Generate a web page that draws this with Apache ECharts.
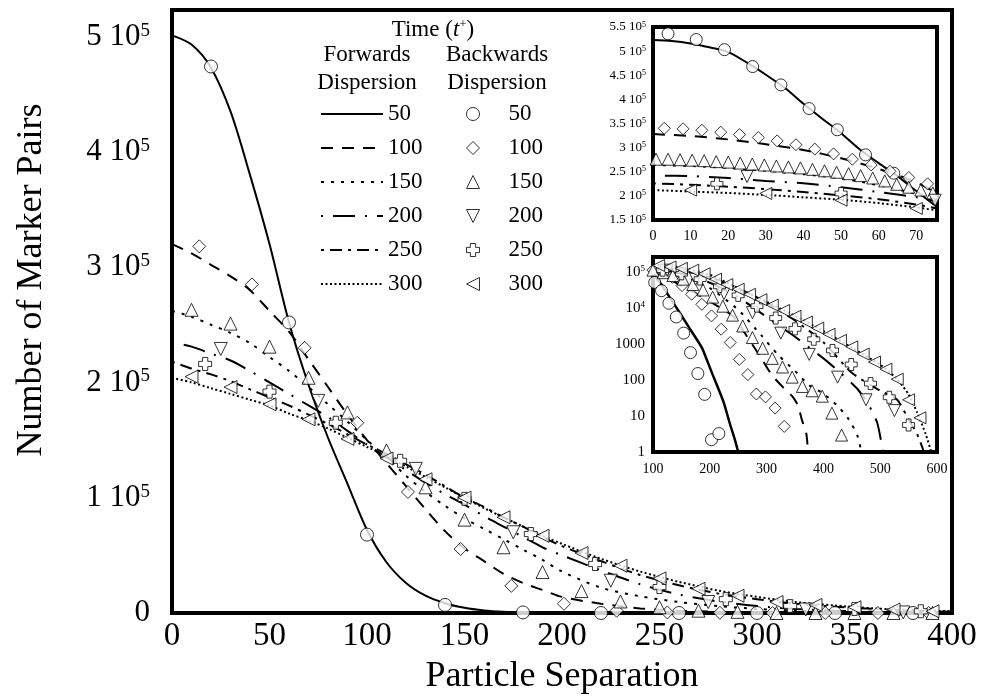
<!DOCTYPE html>
<html><head><meta charset="utf-8">
<script src="https://cdn.jsdelivr.net/npm/echarts@6/dist/echarts.min.js"></script>
<style>html,body{margin:0;padding:0;background:#fff}#c{width:985px;height:700px}</style>
</head><body><div id="c"></div>
<script>
// ---------------- data: main chart ----------------
const timeLabels = ['50', '100', '150', '200', '250', '300'];
const mainLineX = [0,10,20,30,40,50,60,70,80,90,100,110,120,130,140,150,160,170,180,190,200,220,240,260,280,300,320,340,360,380,400];
const fwd50  = [501000,493000,473000,435000,380000,320000,252000,198000,152000,112000,72000,44000,26000,15000,8500,4500,2200,1000,400,200,100,0,0,0,0,0,0,0,0,0,0];
const fwd100 = [320000,312000,302000,292000,280000,262000,244000,220000,196000,172000,150000,130000,110000,90000,71000,56000,45000,34000,26000,20000,14000,8000,4000,2000,1000,400,200,0,0,0,0];
const fwd150 = [262000,257000,250000,243000,234000,222000,210000,196000,181000,166000,150000,135000,119000,105000,93000,82000,73000,64000,55000,46000,36000,22000,14500,9500,6000,3500,2000,1000,500,200,0];
const fwd200 = [235000,231000,225000,219000,210000,200000,190000,180000,170000,158000,146000,135000,124000,113000,103000,94000,84000,75000,66000,57000,50000,37000,25000,16000,10000,6000,3500,2000,1000,500,200];
const fwd250 = [218000,212000,207000,201000,194000,187000,180000,172000,164000,155000,146000,138000,129000,120000,110000,100000,92000,83000,75000,66000,58000,45000,33000,24000,17000,12000,8000,5500,3500,2000,1200];
const fwd300 = [204000,200000,195000,190000,185000,180000,173000,167000,160000,152000,144000,136000,127000,118000,109000,100000,91000,83000,75000,67000,60000,47000,36000,27000,19500,14000,9500,6500,4000,2500,1500];

const bwd50X  = [20,60,100,140,180,220,260,300,340,380];
const bwd50Y  = [474000,252000,68000,7000,500,0,0,0,0,0];
const bwd100X = [14,41,68,95,121,148,174,201,228,254,281,308,335,362,388];
const bwd100Y = [318000,285000,230000,165000,105000,55500,23500,8000,2000,500,200,0,0,0,0];
const bwd150X = [10,30,50,70,90,110,130,150,170,190,210,230,250,270,290,310,330,350,370,390];
const bwd150Y = [263000,251000,231000,204000,174000,141000,109000,81000,57000,35500,19000,10000,5000,2000,1000,0,0,0,0,0];
const bwd200X = [25,75,125,175,225,275,325,375];
const bwd200Y = [229000,184000,125000,70000,28000,9500,3000,500];
const bwd250X = [17,50,84,117,150,184,217,250,284,317,350,384];
const bwd250Y = [216000,192000,165000,132000,99000,68500,42500,22500,12000,6000,3500,1500];
const bwd300X = [10,30,50,70,90,110,130,150,170,190,210,230,250,270,290,310,330,350,370,390];
const bwd300Y = [205000,196000,181000,168000,151000,134000,116000,100000,83000,67000,52000,41000,30000,21000,15000,9500,7000,5000,3000,1500];

// ---------------- data: upper inset (linear) ----------------
const inSolidX = [0,5,10,15,20,25,30,35,40,45,50,55,60,65,70,75.5];
const inFwd50  = [523000,521000,516000,508000,498000,476000,451000,424000,391000,360000,330000,296000,268000,241000,210000,177000];
const inLineX  = [0,10,20,30,40,50,60,70,75.5];
const inFwd100 = [328000,324000,317000,307000,295000,278000,256000,228000,205000];
const inFwd150 = [264000,262000,258000,252000,245000,236000,222000,204000,192000];
const inFwd200 = [242000,241000,237000,231000,226000,218000,208000,197000,188000];
const inFwd250 = [226000,223000,219000,214000,208000,201000,193000,182000,174000];
const inFwd300 = [212000,209000,206000,202000,197000,192000,185000,176000,170000];
const inBwd50X  = [4,11.5,19,26.5,34,41.5,49,56.5,64];
const inBwd50Y  = [536000,524000,503000,468000,430000,381000,337000,285000,247000];
const inBwd100X = [3,8,13,18,23,28,33,38,43,48,53,58,63,68,73];
const inBwd100Y = [340000,339000,336000,332000,327000,321000,314000,306000,297000,287000,276000,264000,251000,238000,225000];
const inBwd150X = [0.8,4,7.2,10.4,13.6,16.8,20,23.2,26.4,29.6,32.8,36,39.2,42.4,45.6,48.8,52,55.2,58.4,61.6,64.8,68,71.2,74.4];
const inBwd150Y = [276000,276000,275000,274000,273000,271000,270000,268000,266000,264000,262000,260000,258000,255000,252000,249000,246000,242000,237000,231000,224000,218000,212000,206000];
const inBwd200X = [25,75];
const inBwd200Y = [240000,191000];
const inBwd250X = [17,50];
const inBwd250Y = [225000,205000];
const inBwd300X = [10,30,50,70];
const inBwd300Y = [212000,205000,191000,174000];

// ---------------- data: lower inset (log) ----------------
const lgFwd50X  = [100,115,130,145,165,186,195,205,216,225,236,244,250];
const lgFwd50Y  = [89100,44700,19100,8320,2630,794,355,141,52.5,22.4,5.62,2.24,1];
const lgFwd100X = [100,150,200,240,265,290,310,330,345,355,362,370,373];
const lgFwd100Y = [104700,41700,15100,6030,1660,417,132,60.3,35.5,20,7.94,3.16,1];
const lgFwd150X = [100,150,200,250,290,320,350,375,400,425,445,460,467];
const lgFwd150Y = [125900,79400,35500,8910,1780,501,178,70.8,41.7,19.1,7.94,2.82,1];
const lgFwd200X = [100,150,200,250,300,350,400,430,460,480,495,505];
const lgFwd200Y = [125900,89100,50100,19950,5620,1580,398,158,56.2,20,6.31,1];
const lgFwd250X = [100,150,200,250,300,350,400,450,500,530,550,565,577];
const lgFwd250Y = [141300,112200,70800,35500,14100,4470,1120,158,50.1,28.2,7.94,3.16,1];
const lgFwd300X = [100,150,200,250,300,350,400,450,500,530,550,565,580,590];
const lgFwd300Y = [158500,131800,83200,35500,14800,6030,2290,794,263,105,39.8,12.6,3.16,1];
const lgBwd50X  = [103,115,128,141,154,166,179,191,203,216];
const lgBwd50Y  = [51300,30200,13500,5620,2000,575,151,39.8,2.19,3.24];
const lgBwd100X = [100,117,134,151,168,186,203,220,236,252,267,282,298,315,331];
const lgBwd100Y = [112200,100000,70800,41700,24000,12600,6030,2570,1100,372,141,40.7,33.9,16.6,5.13];
const lgBwd150X = [100,118,135,153,170,188,205,223,240,258,275,293,310,328,345,363,380,398,415,432];
const lgBwd150Y = [112200,95500,79400,63100,44700,31600,19950,11200,6310,3160,1510,759,398,229,120,66.1,50.1,35.5,12.0,2.95];
const lgBwd200X = [125,175,225,275,325,375,425,475,525];
const lgBwd200Y = [112200,63100,25100,7410,2000,513,120,28.2,14.1];
const lgBwd250X = [117,150,183,217,250,283,316,350,383,416,449,483,516,550];
const lgBwd250Y = [112200,89100,63100,39800,22400,11200,5250,2630,1350,661,269,79.4,33.1,5.62];
const lgBwd300X = [110,130,150,170,190,210,230,250,270,290,310,330,350,370,390,410,430,450,470,490,510,530,550,570];
const lgBwd300Y = [151400,138000,125900,112200,89100,63100,44700,33100,24000,17000,12000,8510,5890,4070,2750,1860,1260,832,525,316,200,105,28.2,8.91];

// ---------------- styling ----------------
const FONT = '"Liberation Serif", "Times New Roman", serif';
const DASH = ['solid', [12, 9], [3, 7], [2, 10, 22, 10], [3, 6, 12, 6], [2, 2.5]];
const PLUS = 'path://M3,0L7,0L7,3L10,3L10,7L7,7L7,10L3,10L3,7L0,7L0,3L3,3Z';
const TRI_DOWN = 'path://M0,0L10,0L5,10Z';
const TRI_LEFT = 'path://M10,0L10,10L0,5Z';
const SYM = ['circle', 'diamond', 'triangle', TRI_DOWN, PLUS, TRI_LEFT];

const pairs = (xs, ys) => xs.map((x, i) => [x, ys[i]]);

function lineSeries(name, xs, ys, k, axis, width, smooth) {
  return {
    name, type: 'line', xAxisIndex: axis, yAxisIndex: axis,
    data: pairs(xs, ys), showSymbol: false, symbol: 'none', smooth: smooth,
    lineStyle: { color: '#000', width: width, type: DASH[k] },
    itemStyle: { color: '#000' }, z: 3, silent: true
  };
}
function markSeries(name, xs, ys, k, axis, size) {
  return {
    name, type: 'scatter', xAxisIndex: axis, yAxisIndex: axis,
    data: pairs(xs, ys), symbol: SYM[k], symbolSize: size,
    itemStyle: { color: '#fff', borderColor: '#000', borderWidth: 1 }, z: 5, silent: true
  };
}

const fwdMain = [fwd50, fwd100, fwd150, fwd200, fwd250, fwd300];
const bwdMain = [[bwd50X, bwd50Y], [bwd100X, bwd100Y], [bwd150X, bwd150Y], [bwd200X, bwd200Y], [bwd250X, bwd250Y], [bwd300X, bwd300Y]];
const fwdIn = [[inSolidX, inFwd50], [inLineX, inFwd100], [inLineX, inFwd150], [inLineX, inFwd200], [inLineX, inFwd250], [inLineX, inFwd300]];
const bwdIn = [[inBwd50X, inBwd50Y], [inBwd100X, inBwd100Y], [inBwd150X, inBwd150Y], [inBwd200X, inBwd200Y], [inBwd250X, inBwd250Y], [inBwd300X, inBwd300Y]];
const fwdLg = [[lgFwd50X, lgFwd50Y], [lgFwd100X, lgFwd100Y], [lgFwd150X, lgFwd150Y], [lgFwd200X, lgFwd200Y], [lgFwd250X, lgFwd250Y], [lgFwd300X, lgFwd300Y]];
const bwdLg = [[lgBwd50X, lgBwd50Y], [lgBwd100X, lgBwd100Y], [lgBwd150X, lgBwd150Y], [lgBwd200X, lgBwd200Y], [lgBwd250X, lgBwd250Y], [lgBwd300X, lgBwd300Y]];

const series = [];
timeLabels.forEach((t, k) => {
  series.push(lineSeries('F' + t, mainLineX, fwdMain[k], k, 0, 2, 0.3));
  series.push(markSeries('B' + t, bwdMain[k][0], bwdMain[k][1], k, 0, 13));
  series.push(lineSeries('iF' + t, fwdIn[k][0], fwdIn[k][1], k, 1, 2, 0.3));
  series.push(markSeries('iB' + t, bwdIn[k][0], bwdIn[k][1], k, 1, 12));
  series.push(lineSeries('lF' + t, fwdLg[k][0], fwdLg[k][1], k, 2, k === 0 ? 2.5 : 2, 0.2));
  series.push(markSeries('lB' + t, bwdLg[k][0], bwdLg[k][1], k, 2, 12));
});

const sup = (size) => ({ n: { fontFamily: FONT, fontSize: size, color: '#000' }, s: { fontFamily: FONT, fontSize: Math.round(size * 0.6), color: '#000', verticalAlign: 'top' } });

const chart = echarts.init(document.getElementById('c'), null, { renderer: 'canvas' });
chart.setOption({
  animation: false,
  backgroundColor: '#fff',
  grid: [
    { left: 172, top: 10, width: 780, height: 604, show: true, borderColor: '#000', borderWidth: 4, backgroundColor: '#fff' },
    { left: 653, top: 27, width: 284, height: 193, show: true, borderColor: '#000', borderWidth: 4, backgroundColor: '#fff' },
    { left: 653, top: 257, width: 284, height: 195, show: true, borderColor: '#000', borderWidth: 4, backgroundColor: '#fff' }
  ],
  xAxis: [
    { gridIndex: 0, type: 'value', min: 0, max: 400, interval: 50,
      name: 'Particle Separation', nameLocation: 'middle', nameGap: 46,
      nameTextStyle: { fontFamily: FONT, fontSize: 36, color: '#000' },
      axisLine: { show: false }, axisTick: { show: false }, splitLine: { show: false },
      axisLabel: { fontFamily: FONT, fontSize: 33, color: '#000', margin: 7 } },
    { gridIndex: 1, type: 'value', min: 0, max: 75.5, interval: 10,
      axisLine: { show: false }, axisTick: { show: false }, splitLine: { show: false },
      axisLabel: { fontFamily: FONT, fontSize: 14, color: '#000', margin: 9, showMaxLabel: false,
        formatter: v => (v % 10 === 0 ? String(v) : '') } },
    { gridIndex: 2, type: 'value', min: 100, max: 600, interval: 100,
      axisLine: { show: false }, axisTick: { show: false }, splitLine: { show: false },
      axisLabel: { fontFamily: FONT, fontSize: 14, color: '#000', margin: 10 } }
  ],
  yAxis: [
    { gridIndex: 0, type: 'value', min: 0, max: 523000, interval: 100000,
      axisLine: { show: false }, axisTick: { show: false }, splitLine: { show: false },
      axisLabel: { margin: 22, showMaxLabel: false, rich: sup(31),
        formatter: v => v === 0 ? '{n|0}' : (v % 100000 === 0 ? '{n|' + (v / 100000) + ' 10}{s|5}' : '') } },
    { gridIndex: 1, type: 'value', min: 150000, max: 550000, interval: 50000,
      axisLine: { show: false }, axisTick: { show: false }, splitLine: { show: false },
      axisLabel: { margin: 7, rich: sup(13),
        formatter: v => (v % 50000 === 0 ? '{n|' + (v / 100000) + ' 10}{s|5}' : '') } },
    { gridIndex: 2, type: 'log', logBase: 10, min: 1, max: 260000,
      axisLine: { show: false }, axisTick: { show: false }, splitLine: { show: false },
      axisLabel: { margin: 8, rich: sup(15),
        formatter: v => {
          const l = Math.log10(v), e = Math.round(l);
          if (Math.abs(l - e) > 1e-6) return '';
          return e >= 4 ? '{n|10}{s|' + e + '}' : '{n|' + Math.round(Math.pow(10, e)) + '}';
        } } }
  ],
  legend: [
    { data: timeLabels.map(t => 'F' + t), orient: 'vertical', left: 315, top: 97,
      itemWidth: 62, itemHeight: 14, itemGap: 10, selectedMode: false,
      formatter: n => n.slice(1),
      itemStyle: { opacity: 0 },
      textStyle: { fontFamily: FONT, fontSize: 23, lineHeight: 24, color: '#000', padding: [0, 0, 0, 0] } },
    { data: timeLabels.map(t => 'B' + t), orient: 'vertical', left: 461, top: 97,
      itemWidth: 13, itemHeight: 13, itemGap: 10, selectedMode: false,
      formatter: n => n.slice(1),
      itemStyle: { color: '#fff', borderColor: '#000', borderWidth: 1 },
      textStyle: { fontFamily: FONT, fontSize: 23, lineHeight: 24, color: '#000', padding: [0, 0, 0, 24] } }
  ],
  graphic: [
    { type: 'text', x: 433, y: 30, style: { text: '{a|Time (}{i|t}{s|+}{a|)}', align: 'center', verticalAlign: 'middle',
        rich: { a: { fontFamily: FONT, fontSize: 23, color: '#000' }, i: { fontFamily: FONT, fontSize: 23, fontStyle: 'italic', color: '#000' }, s: { fontFamily: FONT, fontSize: 13, color: '#000', verticalAlign: 'top' } } } },
    { type: 'text', x: 367, y: 55, style: { text: 'Forwards', font: '23px ' + FONT, fill: '#000', align: 'center', verticalAlign: 'middle' } },
    { type: 'text', x: 367, y: 83, style: { text: 'Dispersion', font: '23px ' + FONT, fill: '#000', align: 'center', verticalAlign: 'middle' } },
    { type: 'text', x: 497, y: 55, style: { text: 'Backwards', font: '23px ' + FONT, fill: '#000', align: 'center', verticalAlign: 'middle' } },
    { type: 'text', x: 497, y: 83, style: { text: 'Dispersion', font: '23px ' + FONT, fill: '#000', align: 'center', verticalAlign: 'middle' } },
    { type: 'text', x: 32, y: 280, rotation: Math.PI / 2, style: { text: 'Number of Marker Pairs', font: '36px ' + FONT, fill: '#000', align: 'center', verticalAlign: 'middle' } }
  ],
  series: series
});
</script>
</body></html>
